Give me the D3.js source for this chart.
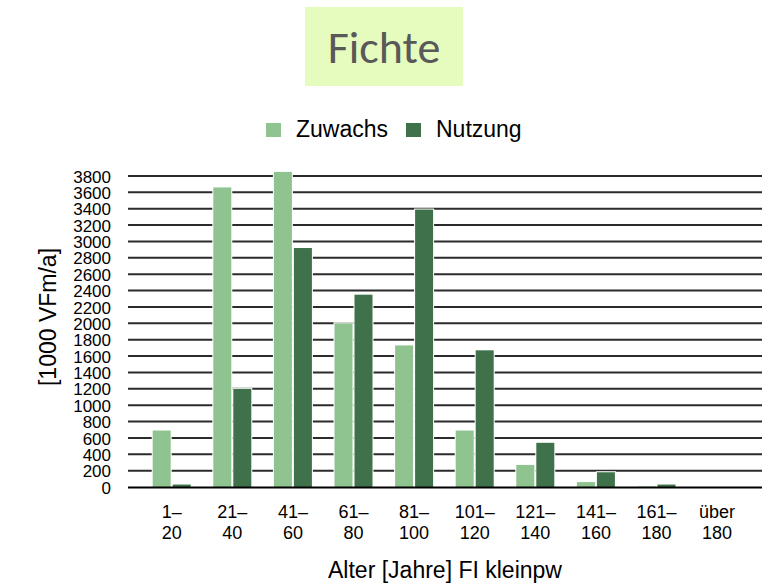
<!DOCTYPE html>
<html><head><meta charset="utf-8">
<script src="https://cdn.jsdelivr.net/npm/d3@7/dist/d3.min.js"></script>
<style>body{margin:0;background:#fff}svg{display:block}</style>
</head><body>
<svg id="c" width="772" height="586"></svg>
<script>
const categories = ["1–|20","21–|40","41–|60","61–|80","81–|100","101–|120","121–|140","141–|160","161–|180","über|180"];
const seriesNames = ["Zuwachs","Nutzung"];
const zuwachs = [690, 3660, 3850, 2000, 1730, 690, 270, 60, 5, 0];
const nutzung = [30, 1200, 2920, 2350, 3390, 1670, 540, 180, 30, 0];
const yTicks = [0,200,400,600,800,1000,1200,1400,1600,1800,2000,2200,2400,2600,2800,3000,3200,3400,3600,3800];
const colors = ["#8fc38f", "#3f724a"];

const svg = d3.select("#c");
const font = "'Liberation Sans', Arial, sans-serif";

// title box
svg.append("rect").attr("x",305).attr("y",7).attr("width",158).attr("height",79).attr("fill","#e6fcbf");
svg.append("text").attr("x",384).attr("y",63).attr("text-anchor","middle")
  .attr("font-family","Carlito, 'Open Sans', 'Noto Sans', sans-serif").attr("font-size",46)
  .attr("fill","#595959").text("Fichte");

const x0 = d3.scaleBand().domain(categories).range([141.4, 747.4]);
const x1 = d3.scaleBand().domain(seriesNames).range([11.3, 49.3]).paddingInner(0.1);
const y = d3.scaleLinear().domain([0,3800]).range([487, 176]);

// gridlines
svg.append("g").selectAll("line").data(yTicks.filter(d=>d>0)).join("line")
  .attr("x1",128).attr("x2",762).attr("y1",d=>y(d)).attr("y2",d=>y(d))
  .attr("stroke","#2b2b2b").attr("stroke-width",2);

// y axis labels
const yAxis = d3.axisLeft(y).tickValues(yTicks).tickSize(0).tickPadding(0).tickFormat(d3.format("d"));
const gy = svg.append("g").attr("transform","translate(111,0)").call(yAxis);
gy.select(".domain").remove();
gy.selectAll("text").attr("font-family",font).attr("font-size",17).attr("fill","#000").attr("dy","0.36em");

// bars
const data = categories.map((c,i)=>({c, vals:[zuwachs[i], nutzung[i]]}));
const groups = svg.append("g").selectAll("g").data(data).join("g")
  .attr("transform",d=>`translate(${x0(d.c)},0)`);
groups.selectAll("rect").data(d=>d.vals.map((v,j)=>({s:seriesNames[j], v, j}))).join("rect")
  .attr("x",d=>x1(d.s)).attr("width",x1.bandwidth())
  .attr("y",d=>y(d.v)).attr("height",d=>y(0)-y(d.v))
  .attr("fill",d=>colors[d.j]).attr("stroke","#fff").attr("stroke-width",d=>d.v>0?2:0)
  .attr("paint-order","stroke");

// baseline
svg.append("line").attr("x1",128).attr("x2",762).attr("y1",y(0)+0.5).attr("y2",y(0)+0.5)
  .attr("stroke","#000").attr("stroke-width",2);

// x axis labels
const xAxis = d3.axisBottom(x0).tickSize(0).tickFormat("");
const gx = svg.append("g").attr("transform",`translate(0,${y(0)})`).call(xAxis);
gx.select(".domain").remove();
gx.selectAll(".tick").each(function(d){
  const parts = d.split("|");
  const t = d3.select(this).append("text").attr("font-family",font).attr("font-size",18)
    .attr("fill","#000").attr("text-anchor","middle");
  t.append("tspan").attr("x",0).attr("y",31).text(parts[0]);
  t.append("tspan").attr("x",0).attr("y",52).text(parts[1]);
});

// axis titles
svg.append("text").attr("transform","translate(56,317) rotate(-90)").attr("text-anchor","middle")
  .attr("font-family",font).attr("font-size",23).attr("fill","#000").text("[1000 VFm/a]");
svg.append("text").attr("x",445).attr("y",578).attr("text-anchor","middle")
  .attr("font-family",font).attr("font-size",23).attr("fill","#000").text("Alter [Jahre] FI kleinpw");

// legend
const leg = svg.append("g");
const legX = [266, 406];
seriesNames.forEach((s,i)=>{
  leg.append("rect").attr("x",legX[i]).attr("y",123).attr("width",15).attr("height",14).attr("fill",colors[i]);
  leg.append("text").attr("x",legX[i]+30).attr("y",137).attr("font-family",font).attr("font-size",23)
    .attr("fill","#000").text(s);
});
</script>
</body></html>
